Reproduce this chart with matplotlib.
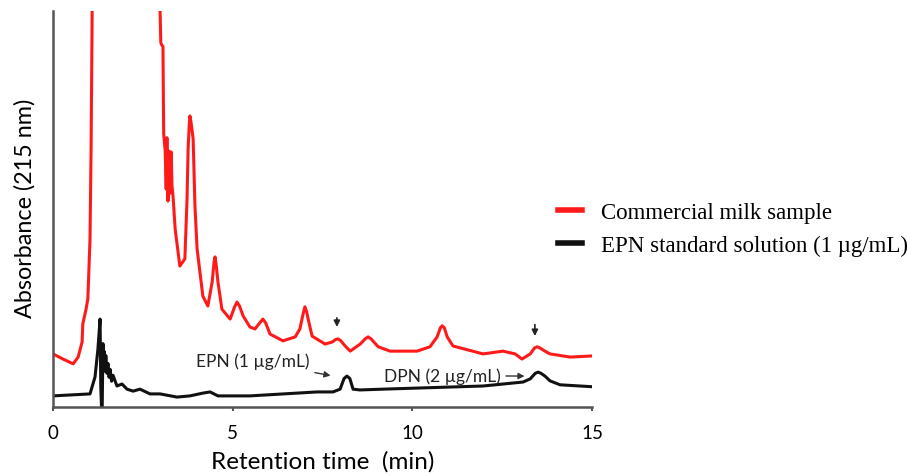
import matplotlib.pyplot as plt
from matplotlib.lines import Line2D

# retention time (min) and absorbance (arbitrary units, 0-100 = plot height)
time_milk = [0.00, 0.28, 0.56, 0.70, 0.81, 0.83, 0.92, 0.97, 1.03, 1.06, 1.09, 1.12,
             2.95, 2.98, 3.00, 3.02, 3.06, 3.08, 3.12, 3.15, 3.17, 3.20, 3.23, 3.26,
             3.29, 3.31, 3.34, 3.40, 3.53, 3.67, 3.73, 3.76, 3.79, 3.81, 3.84, 3.90,
             3.95, 4.01, 4.17, 4.31, 4.43, 4.48, 4.51, 4.54, 4.59, 4.70, 4.93, 5.05,
             5.12, 5.19, 5.29, 5.48, 5.62, 5.76, 5.84, 5.92, 6.04, 6.40, 6.74, 6.87,
             6.96, 7.01, 7.06, 7.10, 7.21, 7.57, 7.77, 7.86, 7.93, 8.00, 8.13, 8.27,
             8.55, 8.70, 8.77, 8.85, 9.05, 9.38, 10.13, 10.49, 10.69, 10.78, 10.83, 10.89,
             10.97, 11.13, 11.97, 12.52, 12.86, 13.05, 13.28, 13.40, 13.47, 13.55, 13.69, 13.83,
             14.39, 15.03]
abs_milk = [13.4, 12.1, 10.9, 12.6, 16.4, 21.0, 24.7, 27.3, 42.4, 65.2, 100.0, 140.0,
            140.0, 100.0, 92.0, 91.5, 91.0, 69.0, 65.0, 55.0, 68.0, 52.0, 64.6, 54.0,
            64.4, 56.0, 53.3, 44.9, 35.6, 37.4, 52.5, 65.2, 71.0, 73.5, 72.0, 67.7,
            50.8, 39.9, 28.0, 25.5, 31.6, 36.5, 37.9, 36.0, 31.6, 24.7, 22.2, 25.2,
            26.5, 25.5, 23.0, 20.2, 19.7, 21.3, 22.2, 21.2, 18.4, 16.7, 17.7, 19.7,
            23.5, 25.3, 24.0, 22.2, 17.9, 15.9, 16.4, 17.0, 17.2, 16.8, 15.4, 14.1,
            15.9, 17.3, 17.7, 17.2, 15.2, 14.1, 14.1, 15.2, 17.7, 20.0, 20.5, 20.0,
            17.7, 15.4, 13.4, 14.1, 13.4, 12.1, 13.4, 14.9, 15.2, 14.9, 14.1, 13.4,
            12.6, 12.9]

time_std = [0.00, 1.03, 1.17, 1.25, 1.31, 1.33, 1.35, 1.37, 1.39, 1.41, 1.43, 1.45,
            1.47, 1.50, 1.53, 1.56, 1.59, 1.63, 1.67, 1.78, 1.92, 2.06, 2.23, 2.42,
            2.70, 2.98, 3.45, 3.81, 4.17, 4.37, 4.59, 5.48, 7.35, 7.79, 7.99, 8.10,
            8.18, 8.26, 8.35, 8.54, 9.18, 11.97, 13.08, 13.28, 13.42, 13.50, 13.58, 13.69,
            13.83, 14.11, 15.03]
abs_std = [2.8, 3.3, 7.6, 14.6, 22.2, 5.0, 0.0, 0.0, 16.0, 10.0, 14.0, 9.0,
           13.0, 8.5, 11.0, 7.5, 9.5, 6.5, 8.0, 5.3, 5.8, 4.5, 4.0, 4.5,
           3.3, 3.3, 2.5, 2.8, 3.5, 3.8, 2.8, 2.8, 3.8, 3.8, 4.5, 7.2,
           7.8, 7.2, 4.5, 4.3, 4.5, 5.3, 6.3, 7.1, 8.5, 8.8, 8.5, 7.8,
           6.6, 5.6, 5.1]

legend_labels = ["Commercial milk sample", "EPN standard solution (1 \u00b5g/mL)"]
x_ticks = [0, 5, 10, 15]

fig = plt.figure(figsize=(9.09, 4.77), dpi=100)
ax = fig.add_axes([0.0583, 0.1447, 0.5930, 0.8302])

ax.plot(time_milk, abs_milk, color="#ff1a1a", lw=2.2, solid_joinstyle="round")
ax.plot(time_std, abs_std, color="#111111", lw=2.2, solid_joinstyle="round")

ax.set_xlim(0, 15)
ax.set_ylim(0, 100)
ax.set_xticks(x_ticks)
ax.set_yticks([])
ax.tick_params(axis="x", direction="out", length=3, width=1.5, color="#555555",
               labelsize=13.5, pad=9)
for lab in ax.get_xticklabels():
    lab.set_family("Lato")
for s in ["top", "right"]:
    ax.spines[s].set_visible(False)
for s in ["left", "bottom"]:
    ax.spines[s].set_color("#555555")
    ax.spines[s].set_linewidth(1.8)

ax.set_xlabel("Retention time  (min)", family="Lato", fontsize=17.5)
ax.set_ylabel("Absorbance (215 nm)", family="Lato", fontsize=16.8)
ax.xaxis.set_label_coords(0.50, -0.108)
ax.yaxis.set_label_coords(-0.032, 0.505)

# small arrows above the milk trace
arrow_kw = dict(arrowstyle="-|>", color="#222222", lw=1.2, mutation_scale=9)
ax.annotate("", xy=(7.90, 19.5), xytext=(7.90, 23.2), arrowprops=arrow_kw)
ax.annotate("", xy=(13.41, 17.2), xytext=(13.41, 21.5), arrowprops=arrow_kw)

# peak labels with arrows
ax.annotate("EPN (1 \u00b5g/mL)", xy=(7.80, 7.8), xytext=(7.15, 11.6),
            ha="right", va="center", family="Lato", fontsize=12.5, color="#222222",
            arrowprops=dict(arrowstyle="-|>", color="#333333", lw=1.0, mutation_scale=9))
ax.annotate("DPN (2 \u00b5g/mL)", xy=(13.20, 7.8), xytext=(12.45, 7.9),
            ha="right", va="center", family="Lato", fontsize=12.5, color="#222222",
            arrowprops=dict(arrowstyle="-|>", color="#333333", lw=1.0, mutation_scale=9))

handles = [Line2D([], [], color="#ff1a1a", lw=4),
           Line2D([], [], color="#111111", lw=4)]
fig.legend(handles, legend_labels, loc="center left", bbox_to_anchor=(0.596, 0.518),
           frameon=False, handlelength=1.05, handletextpad=0.85, labelspacing=0.55,
           borderpad=0.2, prop={"family": "Liberation Serif", "size": 16.5})

fig.savefig("out.png", dpi=100)
